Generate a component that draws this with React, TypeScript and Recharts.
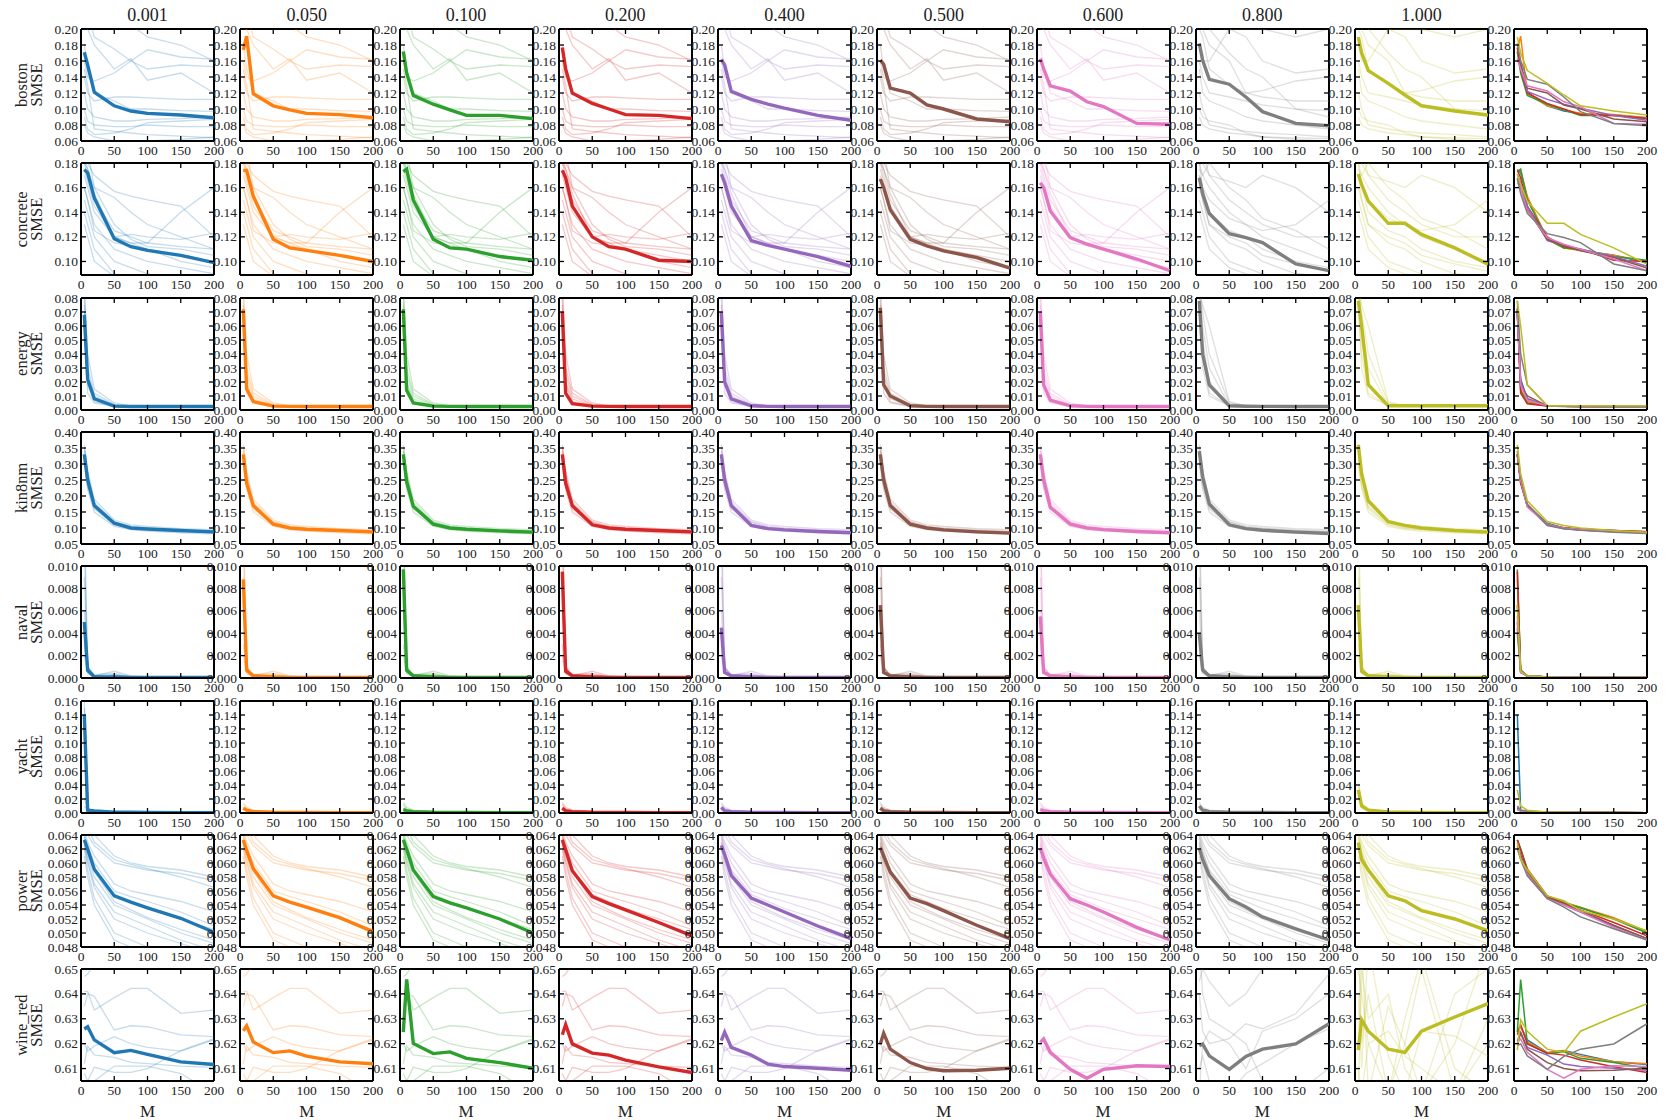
import { Line, LineChart, ReferenceLine, XAxis, YAxis } from "recharts";

// inducing-point counts on the x axis, and the column headers
const M_VALUES = [5, 10, 20, 50, 75, 100, 150, 200];
const X_TICKS = [0, 50, 100, 150, 200];
const ALPHAS = ["0.001", "0.050", "0.100", "0.200", "0.400", "0.500", "0.600", "0.800", "1.000"];
const COLORS = ["#1f77b4", "#ff7f0e", "#2ca02c", "#d62728", "#9467bd", "#8c564b", "#e377c2", "#7f7f7f", "#bcbd22"];

// ---- boston ----
const BOSTON_MEANS = [
  [0.171, 0.155, 0.121, 0.104, 0.0975, 0.0945, 0.0925, 0.089],
  [0.174, 0.191, 0.119, 0.104, 0.099, 0.0945, 0.093, 0.089],
  [0.172, 0.145, 0.117, 0.106, 0.099, 0.092, 0.092, 0.088],
  [0.177, 0.15, 0.12, 0.107, 0.1, 0.093, 0.092, 0.088],
  [0.162, 0.155, 0.122, 0.112, 0.106, 0.101, 0.092, 0.086],
  [0.161, 0.156, 0.126, 0.12, 0.105, 0.1, 0.0875, 0.084],
  [0.163, 0.15, 0.129, 0.1225, 0.109, 0.103, 0.082, 0.081],
  [0.182, 0.161, 0.137, 0.131, 0.115, 0.0967, 0.082, 0.079],
  [0.19, 0.17, 0.148, 0.132, 0.1175, 0.104, 0.0975, 0.0925],
];
const BOSTON_RUNS_A = [
  [0.25, 0.22, 0.19, 0.175, 0.16, 0.15, 0.155, 0.153],
  [0.21, 0.2, 0.18, 0.15, 0.163, 0.136, 0.145, 0.12],
  [0.16, 0.14, 0.135, 0.145, 0.16, 0.174, 0.165, 0.162],
  [0.12, 0.1, 0.09, 0.085, 0.085, 0.087, 0.088, 0.09],
  [0.09, 0.075, 0.068, 0.07, 0.075, 0.083, 0.085, 0.087],
  [0.18, 0.15, 0.12, 0.11, 0.1, 0.1, 0.098, 0.097],
  [0.08, 0.07, 0.065, 0.06, 0.058, 0.06, 0.062, 0.065],
  [0.14, 0.12, 0.11, 0.115, 0.115, 0.114, 0.112, 0.112],
  [0.1, 0.085, 0.08, 0.078, 0.078, 0.08, 0.078, 0.078],
  [0.2, 0.2, 0.22, 0.21, 0.205, 0.19, 0.18, 0.16],
  [0.15, 0.13, 0.075, 0.072, 0.07, 0.068, 0.066, 0.064],
];
const BOSTON_RUNS_B = [
  [0.22, 0.2, 0.18, 0.16, 0.12, 0.115, 0.11, 0.11],
  [0.18, 0.16, 0.16, 0.2, 0.19, 0.16, 0.145, 0.15],
  [0.2, 0.19, 0.15, 0.13, 0.12, 0.123, 0.135, 0.14],
  [0.15, 0.12, 0.11, 0.1, 0.09, 0.085, 0.08, 0.075],
  [0.1, 0.09, 0.085, 0.08, 0.07, 0.065, 0.062, 0.06],
  [0.12, 0.1, 0.08, 0.075, 0.072, 0.07, 0.068, 0.065],
  [0.25, 0.23, 0.2, 0.17, 0.15, 0.14, 0.1, 0.09],
  [0.16, 0.14, 0.12, 0.115, 0.11, 0.105, 0.1, 0.098],
  [0.09, 0.08, 0.075, 0.07, 0.068, 0.065, 0.064, 0.063],
  [0.3, 0.25, 0.22, 0.2, 0.2, 0.2, 0.19, 0.2],
];

// ---- concrete ----
const CONCRETE_MEANS = [
  [0.1746, 0.172, 0.1516, 0.1184, 0.112, 0.109, 0.105, 0.099],
  [0.174, 0.174, 0.153, 0.118, 0.111, 0.109, 0.105, 0.1],
  [0.173, 0.175, 0.15, 0.118, 0.111, 0.11, 0.104, 0.101],
  [0.174, 0.168, 0.145, 0.12, 0.112, 0.11, 0.101, 0.1],
  [0.171, 0.164, 0.145, 0.117, 0.113, 0.11, 0.104, 0.096],
  [0.167, 0.16, 0.142, 0.118, 0.1127, 0.1086, 0.1032, 0.0946],
  [0.164, 0.16, 0.141, 0.1194, 0.114, 0.11, 0.102, 0.0925],
  [0.168, 0.155, 0.139, 0.1226, 0.1194, 0.1153, 0.098, 0.0925],
  [0.171, 0.1625, 0.149, 0.131, 0.131, 0.122, 0.111, 0.0978],
];
const CONCRETE_RUNS_A = [
  [0.19, 0.18, 0.17, 0.157, 0.153, 0.15, 0.145, 0.12],
  [0.18, 0.175, 0.16, 0.152, 0.14, 0.13, 0.12, 0.11],
  [0.17, 0.16, 0.14, 0.12, 0.115, 0.115, 0.14, 0.16],
  [0.16, 0.15, 0.13, 0.11, 0.105, 0.1, 0.095, 0.09],
  [0.15, 0.14, 0.12, 0.1, 0.095, 0.09, 0.085, 0.08],
  [0.18, 0.17, 0.15, 0.125, 0.12, 0.115, 0.112, 0.11],
  [0.2, 0.19, 0.16, 0.13, 0.118, 0.112, 0.11, 0.105],
  [0.14, 0.13, 0.11, 0.09, 0.085, 0.08, 0.078, 0.075],
  [0.175, 0.165, 0.145, 0.12, 0.115, 0.11, 0.1, 0.095],
  [0.16, 0.15, 0.125, 0.115, 0.113, 0.11, 0.105, 0.1],
  [0.13, 0.12, 0.1, 0.088, 0.08, 0.078, 0.075, 0.07],
  [0.185, 0.175, 0.155, 0.12, 0.122, 0.12, 0.118, 0.123],
];
const CONCRETE_RUNS_B = [
  [0.19, 0.18, 0.17, 0.165, 0.16, 0.17, 0.16, 0.14],
  [0.18, 0.17, 0.16, 0.14, 0.13, 0.125, 0.13, 0.15],
  [0.17, 0.16, 0.15, 0.135, 0.13, 0.12, 0.11, 0.1],
  [0.16, 0.15, 0.13, 0.115, 0.11, 0.1, 0.09, 0.088],
  [0.2, 0.19, 0.17, 0.15, 0.14, 0.13, 0.12, 0.12],
  [0.15, 0.14, 0.12, 0.1, 0.095, 0.09, 0.085, 0.08],
  [0.175, 0.17, 0.18, 0.16, 0.15, 0.135, 0.125, 0.11],
  [0.14, 0.13, 0.11, 0.095, 0.09, 0.088, 0.085, 0.083],
  [0.18, 0.16, 0.14, 0.125, 0.12, 0.11, 0.1, 0.095],
  [0.17, 0.15, 0.13, 0.12, 0.115, 0.105, 0.098, 0.092],
];

// ---- energy ----
const ENERGY_MEANS = [
  [0.068, 0.022, 0.008, 0.0028, 0.0025, 0.0025, 0.0025, 0.0025],
  [0.072, 0.015, 0.006, 0.0028, 0.0026, 0.0025, 0.0025, 0.0025],
  [0.072, 0.014, 0.005, 0.0028, 0.0026, 0.0025, 0.0025, 0.0025],
  [0.07, 0.012, 0.0045, 0.0028, 0.0026, 0.0025, 0.0025, 0.0025],
  [0.07, 0.02, 0.008, 0.003, 0.0026, 0.0025, 0.0025, 0.0025],
  [0.073, 0.018, 0.01, 0.003, 0.0026, 0.0025, 0.0025, 0.0025],
  [0.07, 0.018, 0.007, 0.003, 0.0026, 0.0025, 0.0025, 0.0025],
  [0.078, 0.04, 0.018, 0.003, 0.0027, 0.0026, 0.0025, 0.0025],
  [0.078, 0.06, 0.018, 0.003, 0.003, 0.003, 0.003, 0.003],
];
const ENERGY_RUNS_A = [
  [0.08, 0.03, 0.012, 0.004, 0.003, 0.003, 0.003, 0.003],
  [0.06, 0.02, 0.008, 0.003, 0.0025, 0.0025, 0.0025, 0.0025],
  [0.075, 0.018, 0.006, 0.003, 0.003, 0.0028, 0.0027, 0.0026],
  [0.09, 0.04, 0.015, 0.005, 0.003, 0.003, 0.003, 0.003],
  [0.065, 0.012, 0.005, 0.0025, 0.0025, 0.0025, 0.0025, 0.0025],
  [0.07, 0.025, 0.01, 0.0035, 0.003, 0.0028, 0.0026, 0.0025],
];
const ENERGY_RUNS_B = [
  [0.09, 0.07, 0.04, 0.005, 0.003, 0.003, 0.003, 0.003],
  [0.08, 0.05, 0.02, 0.004, 0.003, 0.003, 0.003, 0.003],
  [0.07, 0.04, 0.012, 0.003, 0.003, 0.003, 0.003, 0.003],
  [0.085, 0.075, 0.06, 0.006, 0.003, 0.003, 0.003, 0.003],
  [0.075, 0.03, 0.01, 0.003, 0.003, 0.003, 0.003, 0.003],
  [0.09, 0.06, 0.03, 0.003, 0.003, 0.003, 0.003, 0.003],
];

// ---- kin8nm ----
const KIN_MEANS = [
  [0.33, 0.25, 0.17, 0.115, 0.1, 0.097, 0.092, 0.088],
  [0.33, 0.24, 0.17, 0.112, 0.1, 0.096, 0.092, 0.088],
  [0.33, 0.245, 0.168, 0.112, 0.1, 0.096, 0.091, 0.087],
  [0.33, 0.24, 0.17, 0.11, 0.1, 0.096, 0.092, 0.088],
  [0.33, 0.25, 0.17, 0.108, 0.098, 0.094, 0.089, 0.085],
  [0.33, 0.25, 0.17, 0.112, 0.1, 0.094, 0.088, 0.084],
  [0.33, 0.25, 0.165, 0.112, 0.1, 0.095, 0.089, 0.085],
  [0.34, 0.26, 0.175, 0.11, 0.098, 0.093, 0.087, 0.083],
  [0.36, 0.27, 0.185, 0.12, 0.108, 0.1, 0.092, 0.087],
];
const KIN_RUNS = [
  [0.36, 0.28, 0.19, 0.125, 0.11, 0.105, 0.098, 0.095],
  [0.3, 0.22, 0.15, 0.105, 0.095, 0.09, 0.085, 0.082],
  [0.34, 0.26, 0.18, 0.12, 0.105, 0.1, 0.094, 0.09],
  [0.32, 0.24, 0.16, 0.11, 0.098, 0.094, 0.088, 0.085],
  [0.35, 0.27, 0.17, 0.118, 0.102, 0.098, 0.092, 0.088],
  [0.31, 0.23, 0.165, 0.112, 0.1, 0.095, 0.09, 0.086],
];

// ---- naval ----
const NAVAL_MEANS = [
  [0.005, 0.0007, 0.0001, 0.0001, 0.00005, 0.00005, 0.00005, 0.00005],
  [0.0088, 0.0007, 0.0002, 0.0001, 0.00005, 0.00005, 0.00005, 0.00005],
  [0.0097, 0.0007, 0.0002, 0.0001, 0.00005, 0.00005, 0.00005, 0.00005],
  [0.0095, 0.0006, 0.0002, 0.0001, 0.00005, 0.00005, 0.00005, 0.00005],
  [0.0045, 0.0005, 0.0002, 0.0001, 0.00005, 0.00005, 0.00005, 0.00005],
  [0.0065, 0.0005, 0.0002, 0.0001, 0.00005, 0.00005, 0.00005, 0.00005],
  [0.0055, 0.0005, 0.0002, 0.0001, 0.00005, 0.00005, 0.00005, 0.00005],
  [0.004, 0.0007, 0.0002, 0.0001, 0.00005, 0.00005, 0.00005, 0.00005],
  [0.0065, 0.0006, 0.0002, 0.0001, 0.00005, 0.00005, 0.00005, 0.00005],
];
const NAVAL_RUNS = [
  [0.012, 0.001, 0.0002, 0.0006, 0.0002, 0.0001, 0.0001, 0.0001],
  [0.006, 0.0008, 0.0002, 0.0003, 0.0001, 0.0001, 0.0001, 0.0001],
  [0.003, 0.0005, 0.0001, 0.0001, 0.0001, 0.0001, 0.0001, 0.0001],
  [0.009, 0.0009, 0.0003, 0.0004, 0.0001, 0.0001, 0.0001, 0.0001],
  [0.002, 0.0004, 0.0001, 0.0002, 0.0001, 0.0001, 0.0001, 0.0001],
  [0.015, 0.001, 0.0002, 0.0001, 0.0001, 0.0001, 0.0001, 0.0001],
];

// ---- yacht ----
const YACHT_MEANS = [
  [0.14, 0.004, 0.003, 0.0012, 0.001, 0.0008, 0.0006, 0.0005],
  [0.007, 0.004, 0.002, 0.001, 0.0008, 0.0007, 0.0006, 0.0005],
  [0.005, 0.003, 0.002, 0.001, 0.0008, 0.0007, 0.0006, 0.0005],
  [0.007, 0.003, 0.002, 0.001, 0.0008, 0.0007, 0.0006, 0.0005],
  [0.008, 0.003, 0.002, 0.001, 0.0008, 0.0007, 0.0006, 0.0005],
  [0.007, 0.003, 0.002, 0.001, 0.0008, 0.0007, 0.0006, 0.0005],
  [0.005, 0.003, 0.002, 0.001, 0.0008, 0.0007, 0.0006, 0.0005],
  [0.01, 0.004, 0.002, 0.001, 0.0008, 0.0007, 0.0006, 0.0005],
  [0.033, 0.01, 0.004, 0.0015, 0.001, 0.0008, 0.0006, 0.0005],
];
const YACHT_RUNS_SPIKE = [
  [0.16, 0.006, 0.003, 0.0015, 0.001, 0.001, 0.0008, 0.0006],
  [0.13, 0.005, 0.003, 0.001, 0.001, 0.0008, 0.0006, 0.0005],
  [0.15, 0.004, 0.002, 0.001, 0.0009, 0.0008, 0.0006, 0.0005],
  [0.02, 0.006, 0.004, 0.002, 0.001, 0.0009, 0.0007, 0.0006],
  [0.01, 0.004, 0.003, 0.001, 0.0009, 0.0008, 0.0006, 0.0005],
];
const YACHT_RUNS_LOW = [
  [0.012, 0.006, 0.003, 0.0015, 0.001, 0.0009, 0.0007, 0.0006],
  [0.008, 0.004, 0.002, 0.001, 0.0009, 0.0008, 0.0006, 0.0005],
  [0.004, 0.003, 0.002, 0.001, 0.0009, 0.0008, 0.0006, 0.0005],
  [0.015, 0.008, 0.004, 0.002, 0.001, 0.0009, 0.0007, 0.0006],
  [0.006, 0.005, 0.003, 0.001, 0.0009, 0.0008, 0.0006, 0.0005],
];
const YACHT_RUNS_HIGH = [
  [0.04, 0.015, 0.006, 0.002, 0.001, 0.0009, 0.0007, 0.0006],
  [0.03, 0.01, 0.004, 0.0015, 0.001, 0.0008, 0.0006, 0.0005],
  [0.02, 0.008, 0.003, 0.001, 0.0009, 0.0008, 0.0006, 0.0005],
  [0.045, 0.012, 0.005, 0.002, 0.001, 0.0009, 0.0007, 0.0006],
  [0.025, 0.006, 0.003, 0.001, 0.0009, 0.0008, 0.0006, 0.0005],
];

// ---- power ----
const POWER_MEANS = [
  [0.0633, 0.062, 0.0591, 0.0553, 0.0544, 0.0536, 0.0521, 0.0501],
  [0.0633, 0.0618, 0.0592, 0.0553, 0.0544, 0.0537, 0.0522, 0.0502],
  [0.0633, 0.062, 0.059, 0.0552, 0.0543, 0.0536, 0.052, 0.05],
  [0.0633, 0.0619, 0.0589, 0.0552, 0.0542, 0.0533, 0.0515, 0.0496],
  [0.0625, 0.0612, 0.0582, 0.055, 0.054, 0.053, 0.051, 0.0492],
  [0.0622, 0.061, 0.0587, 0.055, 0.0542, 0.0532, 0.0511, 0.0492],
  [0.0621, 0.0607, 0.0584, 0.0549, 0.054, 0.053, 0.0508, 0.049],
  [0.0621, 0.0605, 0.0582, 0.0549, 0.0537, 0.0523, 0.0506, 0.049],
  [0.0629, 0.0605, 0.059, 0.0553, 0.0546, 0.0532, 0.052, 0.0503],
];
const POWER_RUNS = [
  [0.066, 0.065, 0.063, 0.0605, 0.0598, 0.0592, 0.058, 0.0565],
  [0.065, 0.064, 0.0625, 0.06, 0.0595, 0.059, 0.0585, 0.0575],
  [0.064, 0.0625, 0.06, 0.056, 0.0552, 0.0545, 0.053, 0.051],
  [0.063, 0.061, 0.058, 0.054, 0.053, 0.052, 0.05, 0.0485],
  [0.0625, 0.06, 0.0565, 0.052, 0.051, 0.05, 0.0485, 0.047],
  [0.062, 0.059, 0.055, 0.05, 0.049, 0.048, 0.047, 0.046],
  [0.0645, 0.063, 0.061, 0.057, 0.056, 0.0555, 0.0545, 0.053],
  [0.0635, 0.0615, 0.059, 0.0555, 0.0545, 0.0535, 0.052, 0.0505],
  [0.061, 0.058, 0.054, 0.049, 0.048, 0.047, 0.046, 0.045],
  [0.067, 0.066, 0.064, 0.061, 0.06, 0.0595, 0.059, 0.058],
  [0.0638, 0.0618, 0.0588, 0.0545, 0.0533, 0.0522, 0.0505, 0.049],
  [0.0628, 0.0605, 0.057, 0.053, 0.052, 0.051, 0.049, 0.0475],
];

// ---- wine_red ----
const WINE_MEANS = [
  [0.6259, 0.6268, 0.6215, 0.6164, 0.6173, 0.6157, 0.6127, 0.6116],
  [0.6252, 0.6272, 0.6207, 0.6164, 0.6171, 0.615, 0.6127, 0.6119],
  [0.6246, 0.6458, 0.6201, 0.616, 0.6167, 0.6141, 0.6124, 0.6101],
  [0.6236, 0.6277, 0.6199, 0.6162, 0.6154, 0.6134, 0.6107, 0.6084],
  [0.6212, 0.6246, 0.6185, 0.6154, 0.6118, 0.6108, 0.6101, 0.6093],
  [0.6199, 0.6242, 0.6178, 0.6124, 0.61, 0.6091, 0.6093, 0.6101],
  [0.6205, 0.6219, 0.6165, 0.6097, 0.6061, 0.6097, 0.6111, 0.6108],
  [0.6192, 0.6199, 0.6151, 0.6097, 0.6149, 0.6178, 0.6199, 0.628],
  [0.6174, 0.6296, 0.625, 0.6178, 0.6165, 0.625, 0.6307, 0.6361],
];
const WINE_RUNS_A = [
  [0.647, 0.648, 0.652, 0.66, 0.66, 0.66, 0.66, 0.66],
  [0.641, 0.641, 0.6335, 0.6385, 0.6422, 0.6422, 0.6322, 0.6335],
  [0.635, 0.64, 0.639, 0.6255, 0.6272, 0.6268, 0.6235, 0.6228],
  [0.62, 0.617, 0.619, 0.6228, 0.62, 0.6185, 0.617, 0.6215],
  [0.612, 0.619, 0.6155, 0.6145, 0.6125, 0.612, 0.611, 0.6105],
  [0.608, 0.605, 0.6105, 0.6085, 0.6085, 0.61, 0.6172, 0.622],
  [0.603, 0.6, 0.605, 0.611, 0.611, 0.611, 0.608, 0.6],
];
const WINE_RUNS_B = [
  [0.645, 0.65, 0.645, 0.635, 0.64, 0.65, 0.65, 0.65],
  [0.6, 0.62, 0.625, 0.62, 0.61, 0.625, 0.63, 0.64],
  [0.64, 0.625, 0.62, 0.622, 0.628, 0.626, 0.632, 0.648],
  [0.61, 0.615, 0.605, 0.6, 0.608, 0.612, 0.62, 0.626],
  [0.66, 0.64, 0.63, 0.625, 0.62, 0.605, 0.6, 0.61],
];
const WINE_RUNS_C = [
  [0.66, 0.62, 0.64, 0.6, 0.62, 0.65, 0.6, 0.63],
  [0.6, 0.65, 0.63, 0.64, 0.61, 0.6, 0.62, 0.66],
  [0.64, 0.61, 0.66, 0.615, 0.6, 0.625, 0.623, 0.615],
  [0.62, 0.66, 0.6, 0.635, 0.62, 0.6, 0.64, 0.65],
  [0.65, 0.64, 0.62, 0.6, 0.63, 0.655, 0.61, 0.6],
  [0.61, 0.6, 0.62, 0.625, 0.615, 0.61, 0.6, 0.62],
];

const ROWS = [
  { name: "boston", domain: [0.06, 0.2], ticks: [0.06, 0.08, 0.1, 0.12, 0.14, 0.16, 0.18, 0.2], digits: 2, means: BOSTON_MEANS, runs: [BOSTON_RUNS_A, BOSTON_RUNS_A, BOSTON_RUNS_A, BOSTON_RUNS_A, BOSTON_RUNS_A, BOSTON_RUNS_A, BOSTON_RUNS_A, BOSTON_RUNS_B, BOSTON_RUNS_B] },
  { name: "concrete", domain: [0.089, 0.18], ticks: [0.1, 0.12, 0.14, 0.16, 0.18], digits: 2, means: CONCRETE_MEANS, runs: [CONCRETE_RUNS_A, CONCRETE_RUNS_A, CONCRETE_RUNS_A, CONCRETE_RUNS_A, CONCRETE_RUNS_A, CONCRETE_RUNS_A, CONCRETE_RUNS_A, CONCRETE_RUNS_B, CONCRETE_RUNS_B] },
  { name: "energy", domain: [0, 0.08], ticks: [0, 0.01, 0.02, 0.03, 0.04, 0.05, 0.06, 0.07, 0.08], digits: 2, means: ENERGY_MEANS, runs: [ENERGY_RUNS_A, ENERGY_RUNS_A, ENERGY_RUNS_A, ENERGY_RUNS_A, ENERGY_RUNS_A, ENERGY_RUNS_A, ENERGY_RUNS_A, ENERGY_RUNS_B, ENERGY_RUNS_B] },
  { name: "kin8nm", domain: [0.05, 0.4], ticks: [0.05, 0.1, 0.15, 0.2, 0.25, 0.3, 0.35, 0.4], digits: 2, means: KIN_MEANS, runs: Array(9).fill(KIN_RUNS) },
  { name: "naval", domain: [0, 0.01], ticks: [0, 0.002, 0.004, 0.006, 0.008, 0.01], digits: 3, means: NAVAL_MEANS, runs: Array(9).fill(NAVAL_RUNS) },
  { name: "yacht", domain: [0, 0.16], ticks: [0, 0.02, 0.04, 0.06, 0.08, 0.1, 0.12, 0.14, 0.16], digits: 2, means: YACHT_MEANS, runs: [YACHT_RUNS_SPIKE, YACHT_RUNS_LOW, YACHT_RUNS_LOW, YACHT_RUNS_LOW, YACHT_RUNS_LOW, YACHT_RUNS_LOW, YACHT_RUNS_LOW, YACHT_RUNS_LOW, YACHT_RUNS_HIGH] },
  { name: "power", domain: [0.048, 0.064], ticks: [0.048, 0.05, 0.052, 0.054, 0.056, 0.058, 0.06, 0.062, 0.064], digits: 3, means: POWER_MEANS, runs: Array(9).fill(POWER_RUNS) },
  { name: "wine_red", domain: [0.605, 0.65], ticks: [0.61, 0.62, 0.63, 0.64, 0.65], digits: 2, means: WINE_MEANS, runs: [WINE_RUNS_A, WINE_RUNS_A, WINE_RUNS_A, WINE_RUNS_A, WINE_RUNS_A, WINE_RUNS_A, WINE_RUNS_A, WINE_RUNS_B, WINE_RUNS_C] },
];

// panel geometry (page pixels)
const X0 = 81;
const Y0 = 29;
const DX = 159.25;
const DY = 134.3;
const PW = 133;
const PH = 112;
const AXW = 44; // room for y tick labels
const MT = 9;
const MR = 16;
const AXH = 24;
const FONT = "'Liberation Serif', 'DejaVu Serif', serif";
const TICK_FS = 13.5;

interface Series {
  values: number[];
  color: string;
  width: number;
  opacity: number;
}

function YTick({ y, payload, digits }: any) {
  return (
    <g>
      <line x1={AXW} x2={AXW + 5} y1={y} y2={y} stroke="#000" strokeWidth={1.3} />
      <line x1={AXW + PW - 5} x2={AXW + PW} y1={y} y2={y} stroke="#000" strokeWidth={1.3} />
      <text x={AXW - 3} y={y} textAnchor="end" dominantBaseline="central" fontSize={TICK_FS} fontFamily={FONT} fill="#222">
        {Number(payload.value).toFixed(digits)}
      </text>
    </g>
  );
}

function XTick({ x, payload }: any) {
  return (
    <g>
      <line x1={x} x2={x} y1={MT + PH - 5} y2={MT + PH} stroke="#000" strokeWidth={1.3} />
      <line x1={x} x2={x} y1={MT} y2={MT + 5} stroke="#000" strokeWidth={1.3} />
      <text x={x} y={MT + PH + 4} textAnchor="middle" dominantBaseline="hanging" fontSize={TICK_FS} fontFamily={FONT} fill="#222">
        {payload.value}
      </text>
    </g>
  );
}

function Panel({ r, c, series }: { r: number; c: number; series: Series[] }) {
  const row = ROWS[r];
  const data = M_VALUES.map((m, i) => {
    const d: Record<string, number> = { m };
    series.forEach((s, k) => (d["s" + k] = s.values[i]));
    return d;
  });
  const left = X0 + DX * c - AXW;
  const top = Y0 + DY * r - MT;
  return (
    <div style={{ position: "absolute", left, top }}>
      <LineChart width={AXW + PW + MR} height={MT + PH + AXH} data={data} margin={{ top: MT, right: MR, bottom: 0, left: 0 }}>
        <XAxis
          type="number"
          dataKey="m"
          domain={[0, 200]}
          ticks={X_TICKS}
          interval={0}
          allowDataOverflow
          height={AXH}
          tickLine={false}
          axisLine={{ stroke: "#000", strokeWidth: 2 }}
          tick={(p: any) => <XTick {...p} />}
        />
        <YAxis
          type="number"
          domain={row.domain}
          ticks={row.ticks}
          interval={0}
          allowDataOverflow
          width={AXW}
          tickLine={false}
          axisLine={{ stroke: "#000", strokeWidth: 2 }}
          tick={(p: any) => <YTick {...p} digits={row.digits} />}
        />
        <ReferenceLine y={row.domain[1]} stroke="#000" strokeWidth={2} />
        <ReferenceLine x={200} stroke="#000" strokeWidth={2} />
        {series.map((s, k) => (
          <Line
            key={k}
            type="linear"
            dataKey={"s" + k}
            stroke={s.color}
            strokeWidth={s.width}
            strokeOpacity={s.opacity}
            dot={false}
            activeDot={false}
            isAnimationActive={false}
          />
        ))}
      </LineChart>
    </div>
  );
}

export default function App() {
  const panels: JSX.Element[] = [];
  ROWS.forEach((row, r) => {
    ALPHAS.forEach((_, c) => {
      const runs: Series[] = row.runs[c].map((v) => ({ values: v, color: COLORS[c], width: 1.3, opacity: 0.25 }));
      const mean: Series = { values: row.means[c], color: COLORS[c], width: 3.4, opacity: 1 };
      panels.push(<Panel key={`${r}-${c}`} r={r} c={c} series={[...runs, mean]} />);
    });
    // overlay of all means
    const all: Series[] = row.means.map((v, c) => ({ values: v, color: COLORS[c], width: 1.5, opacity: 1 }));
    panels.push(<Panel key={`${r}-all`} r={r} c={9} series={all} />);
  });

  return (
    <div style={{ position: "absolute", left: 0, top: 0, width: 1678, height: 1120, background: "#fff", fontFamily: FONT }}>
      <svg width={1678} height={1120} style={{ position: "absolute", left: 0, top: 0 }}>
        {ALPHAS.map((a, c) => (
          <text key={a} x={X0 + DX * c + PW / 2} y={15} textAnchor="middle" dominantBaseline="central" fontSize={18} fontFamily={FONT} fill="#222">
            {a}
          </text>
        ))}
        {ALPHAS.map((a, c) => (
          <text key={"m" + a} x={X0 + DX * c + PW / 2} y={1111} textAnchor="middle" dominantBaseline="central" fontSize={17} fontFamily={FONT} fill="#222">
            M
          </text>
        ))}
        {ROWS.map((row, r) => {
          const cy = Y0 + DY * r + PH / 2;
          return (
            <g key={row.name}>
              <text transform={`translate(27 ${cy}) rotate(-90)`} textAnchor="middle" fontSize={16.5} fontFamily={FONT} fill="#222">
                {row.name}
              </text>
              <text transform={`translate(42 ${cy}) rotate(-90)`} textAnchor="middle" fontSize={16.5} fontFamily={FONT} fill="#222">
                SMSE
              </text>
            </g>
          );
        })}
      </svg>
      {panels}
    </div>
  );
}
